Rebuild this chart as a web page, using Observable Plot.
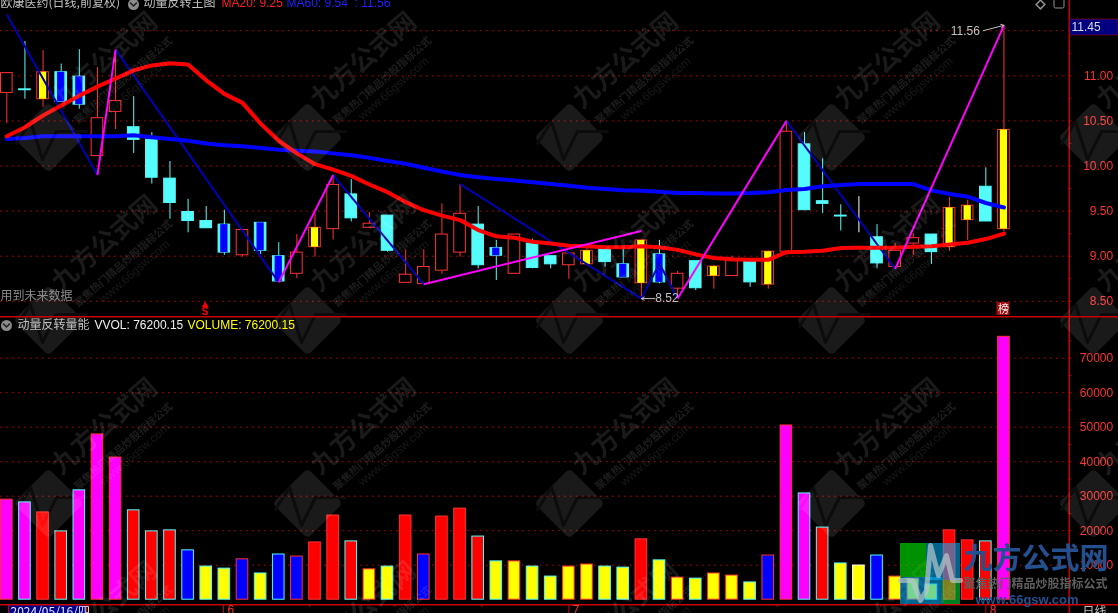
<!DOCTYPE html>
<html>
<head>
<meta charset="utf-8">
<script src="https://cdn.jsdelivr.net/npm/d3@7"></script>
<script src="https://cdn.jsdelivr.net/npm/@observablehq/plot@0.6"></script>
<style>
html,body{margin:0;padding:0;background:#000;overflow:hidden;width:1118px;height:613px}
#wrap{position:relative;width:1118px;height:613px;background:#000}
#wrap svg{display:block}
#wm{position:absolute;left:0;top:0;pointer-events:none;mix-blend-mode:screen}
#over{position:absolute;left:0;top:0;pointer-events:none}
</style>
</head>
<body>
<div id="wrap"><div id="top"></div><div id="bot"></div><div id="wm"></div><div id="over"></div></div>
<script>
const opens  = [10.81,10.85,10.74,11.04,10.99,10.11,10.60,10.43,10.29,9.86,9.49,9.39,9.35,9.01,9.37,9.00,8.805,9.10,9.30,9.685,9.315,9.45,8.705,8.69,8.84,9.04,9.35,9.09,8.805,9.14,9.00,8.90,8.91,9.08,8.91,8.70,9.02,8.64,8.945,8.78,8.78,8.935,8.685,9.05,10.24,9.61,9.45,9.33,9.21,8.88,9.14,9.24,9.10,9.40,9.77,9.30];
const highs  = [11.03,11.38,11.28,11.13,11.29,11.09,11.28,10.77,10.37,10.05,9.63,9.55,9.51,9.29,9.37,9.15,9.24,9.47,9.90,9.85,9.485,9.45,9.07,9.07,9.58,9.795,9.55,9.175,9.24,9.19,9.00,9.03,9.10,9.08,9.075,9.175,9.175,8.83,8.945,8.90,9.00,8.935,9.06,10.50,10.37,10.08,9.57,9.66,9.35,9.14,9.25,9.24,9.65,9.62,9.98,11.56];
const lows   = [10.47,10.74,10.65,10.71,10.63,10.11,10.405,10.14,9.80,9.41,9.26,9.31,9.01,8.99,9.02,8.71,8.75,8.99,9.18,9.38,9.315,9.045,8.705,8.69,8.80,8.99,8.86,8.73,8.805,8.86,8.86,8.745,8.91,8.88,8.765,8.53,8.695,8.53,8.62,8.635,8.78,8.655,8.635,9.05,9.51,9.475,9.28,9.26,8.86,8.88,9.005,8.91,9.055,9.175,9.385,9.27];
const closes = [11.03,10.84,11.04,10.71,10.68,10.53,10.72,10.29,9.87,9.59,9.39,9.31,9.04,9.29,9.06,8.72,9.04,9.315,9.79,9.42,9.36,9.06,8.795,8.88,9.24,9.47,8.90,9.005,9.24,8.87,8.91,9.03,9.06,8.935,8.765,9.175,8.71,8.805,8.645,8.885,8.945,8.71,9.05,10.38,9.51,9.58,9.44,9.33,8.92,9.06,9.20,9.045,9.535,9.56,9.385,10.40];
const yellowCore = [2,17,32,35,39,42,52,53,55];
const blueCore   = [3,4,12,14,15,27,34,36];
const ma20 = [10.33,10.43,10.56,10.67,10.78,10.88,10.97,11.06,11.115,11.14,11.125,10.95,10.80,10.70,10.47,10.28,10.14,10.02,9.96,9.89,9.795,9.71,9.60,9.51,9.45,9.40,9.29,9.22,9.205,9.16,9.14,9.115,9.11,9.10,9.10,9.11,9.10,9.07,9.02,8.98,8.965,8.96,8.96,9.045,9.05,9.06,9.09,9.095,9.095,9.095,9.105,9.11,9.13,9.15,9.19,9.25];
const ma60 = [10.30,10.31,10.33,10.33,10.33,10.33,10.33,10.34,10.32,10.30,10.28,10.25,10.23,10.22,10.20,10.18,10.17,10.16,10.14,10.12,10.09,10.055,10.025,9.98,9.94,9.90,9.875,9.855,9.84,9.82,9.80,9.78,9.76,9.745,9.73,9.725,9.715,9.70,9.70,9.695,9.695,9.70,9.71,9.735,9.745,9.775,9.79,9.80,9.80,9.80,9.80,9.73,9.69,9.66,9.59,9.54];
const zigFall = [[0,11.68,5,9.90],[6,11.29,15,8.71],[18,9.90,23,8.69],[25,9.80,35,8.53],[35,8.53,36,8.92],[36,8.92,37,8.53],[43,10.50,49,8.86]];
const zigRise = [[5,9.90,6,11.29],[15,8.71,18,9.90],[23,8.69,35,9.28],[37,8.53,43,10.50],[49,8.86,55,11.56]];
const volumes = [29000,28200,25300,19800,31700,47900,41200,25900,19800,20100,14300,9600,9000,11700,7600,13100,12500,16600,24400,16900,8800,9600,24400,13100,24100,26400,18300,11100,11100,9600,6700,9600,10200,9600,9300,17500,11400,6400,6100,7600,7000,5000,12800,50500,30800,20900,10500,9900,12800,6700,6100,4400,20100,17200,16900,76200];
const magentaBars = [0,1,4,5,6,43,44,55];
const redBars  = [2,3,7,8,9,17,18,19,22,24,25,26,35,45,52,53,54];
const blueBars = [10,13,15,16,23,42,48];
const priceTicks = [8.5,9,9.5,10,10.5,11];
const priceGrid = [8.5,9,9.5,10,10.5,11,11.5];
const priceMinor = [8.75,9.25,9.75,10.25,10.75,11.25];
const volTicks = [10000,20000,30000,40000,50000,60000,70000];
const volMinor = [5000,15000,25000,35000,45000,55000,65000,75000];
const monthLabels = [["6",11.95],["7",31],["8",54]];
const weekTicks = [16.7,21.4,26.2,36.7,42.5,48.2];

const RED="#ff3232", CYAN="#54fcfc", YEL="#ffff00", BLU="#0000ff", MAG="#ff00ff", AX="#c80000", NAVY="#0000b4", GRY="#c0c0c0";
const FONT="'Liberation Sans',Arial,sans-serif", CJK="'Noto Sans CJK SC',sans-serif";
const STEP=18.13, X0=6.3, W=1118;
const xOpt={type:"linear",domain:[-X0/STEP,(W-X0)/STEP],range:[0,W],axis:null};
const axisI=(1068.7-X0)/STEP, tickLen=2.5/STEP, H1=317, H2=296;
const idx=d3.range(opens.length);
const colorOf=i=>closes[i]>opens[i]?RED:closes[i]<opens[i]?CYAN:"#ffffff";
const isUp=i=>closes[i]>opens[i];
const bodyHalf=0.32, coreHalf=0.2;
const base={width:W,marginTop:0,marginBottom:0,marginLeft:0,marginRight:0,style:{background:"#000",display:"block"}};

const pricePanel=Plot.plot({...base,height:H1,x:xOpt,
  y:{domain:[11.835,11-(H1-75.3)/90.2],range:[0,H1],axis:null},
  marks:[
    Plot.ruleY(priceGrid,{y:d=>d,x1:xOpt.domain[0],x2:axisI,stroke:AX,strokeWidth:1,strokeDasharray:"1.5,4.5"}),
    Plot.ruleX(idx,{x:d=>d,y1:i=>highs[i],y2:i=>lows[i],stroke:colorOf,strokeWidth:1}),
    Plot.rect(idx,{x1:i=>i-bodyHalf,x2:i=>i+bodyHalf,y1:i=>opens[i],y2:i=>closes[i],
      fill:i=>isUp(i)?"#000":colorOf(i),stroke:colorOf,strokeWidth:1}),
    Plot.rect(yellowCore,{x1:i=>i-coreHalf,x2:i=>i+coreHalf,y1:i=>opens[i],y2:i=>closes[i],fill:YEL}),
    Plot.rect(blueCore,{x1:i=>i-coreHalf,x2:i=>i+coreHalf,y1:i=>opens[i],y2:i=>closes[i],fill:BLU}),
    Plot.link(zigFall,{x1:d=>d[0],y1:d=>d[1],x2:d=>d[2],y2:d=>d[3],stroke:NAVY,strokeWidth:2}),
    Plot.line(ma60,{x:(d,i)=>i,y:d=>d,stroke:BLU,strokeWidth:4,curve:"linear"}),
    Plot.line(ma20,{x:(d,i)=>i,y:d=>d,stroke:"#ff0000",strokeWidth:4,curve:"linear"}),
    Plot.link(zigRise,{x1:d=>d[0],y1:d=>d[1],x2:d=>d[2],y2:d=>d[3],stroke:MAG,strokeWidth:2}),
    Plot.arrow(["11.56"],{x1:55-1.15,y1:11.5,x2:55,y2:11.56,stroke:GRY,strokeWidth:1,headLength:5,bend:false}),
    Plot.text(["11.56"],{x:55,y:11.5,dx:-24,text:d=>d,textAnchor:"end",fill:GRY,fontSize:12,fontFamily:FONT}),
    Plot.arrow(["8.52"],{x1:35+0.75,y1:8.53,x2:35,y2:8.53,stroke:GRY,strokeWidth:1,headLength:5,bend:false}),
    Plot.text(["8.52"],{x:35,y:8.53,dx:14,text:d=>d,textAnchor:"start",fill:GRY,fontSize:12,fontFamily:FONT}),
    Plot.ruleX([axisI],{x:d=>d,stroke:AX,strokeWidth:1.5}),
    Plot.ruleY(priceTicks.concat(priceMinor,[11.5]),{y:d=>d,x1:axisI,x2:axisI+tickLen,stroke:AX}),
    Plot.text(priceTicks,{x:axisI,y:d=>d,dx:44,text:d=>d.toFixed(2),textAnchor:"end",fill:RED,fontSize:12,fontFamily:FONT})
  ]});
document.getElementById("top").append(pricePanel);

const floorV=-1480;
const barFill=i=>magentaBars.includes(i)?MAG:redBars.includes(i)?"#ff0000":blueBars.includes(i)?BLU:YEL;
const volumePanel=Plot.plot({...base,height:H2,x:xOpt,
  y:{domain:[81797,-4000],range:[0,H2],axis:null},
  marks:[
    Plot.ruleY(volTicks,{y:d=>d,x1:xOpt.domain[0],x2:axisI,stroke:AX,strokeWidth:1,strokeDasharray:"1.5,4.5"}),
    Plot.rect(idx,{x1:i=>i-bodyHalf,x2:i=>i+bodyHalf,y1:0,y2:i=>volumes[i],fill:barFill,stroke:colorOf,strokeWidth:1}),
    Plot.ruleX([axisI],{x:d=>d,stroke:AX,strokeWidth:1.5}),
    Plot.ruleY(volTicks.concat(volMinor),{y:d=>d,x1:axisI,x2:axisI+tickLen,stroke:AX}),
    Plot.text(volTicks,{x:axisI,y:d=>d,dx:44,text:d=>String(d),textAnchor:"end",fill:RED,fontSize:12,fontFamily:FONT}),
    Plot.ruleY([floorV],{y:d=>d,x1:xOpt.domain[0],x2:xOpt.domain[1],stroke:AX,strokeWidth:1.5}),
    Plot.ruleX(monthLabels,{x:d=>d[1],y1:floorV,y2:-4000,stroke:AX}),
    Plot.ruleX(weekTicks,{x:d=>d,y1:floorV,y2:floorV-700,stroke:AX}),
    Plot.text(monthLabels,{x:d=>d[1],y:-3100,dx:4,text:d=>d[0],textAnchor:"start",fill:RED,fontSize:12,fontFamily:FONT})
  ]});
document.getElementById("bot").append(volumePanel);

/* translucent site watermark: a black sheet screened over the panels */
const tileX=[48,307,569,831,1093], tileY=[137,320,503,686];
const tiles=tileX.flatMap(x=>tileY.map(y=>({x,y})));
const pulse=[[-32,6],[-18,-16],[-6,22],[8,-6],[38,-6]];
const identity={x:{type:"identity",axis:null},y:{type:"identity",axis:null}};
const watermark=Plot.plot({width:W,height:613,margin:0,...identity,style:{background:"#000",display:"block"},
  marks:[
    Plot.dot(tiles,{x:"x",y:"y",symbol:"square",r:23,rotate:45,fill:"#1a1a1a",stroke:"#1a1a1a",strokeWidth:9,strokeLinejoin:"round"}),
    Plot.line(tiles.flatMap((t,k)=>pulse.map(p=>({x:t.x+p[0],y:t.y+p[1],k}))),{x:"x",y:"y",z:"k",stroke:"#0c0c0c",strokeWidth:3}),
    Plot.text(tiles,{x:d=>d.x+56,y:d=>d.y-77,text:()=>"九方公式网",rotate:-41,fontSize:26,fontWeight:"bold",fontFamily:CJK,fill:"#1a1a1a"}),
    Plot.text(tiles,{x:d=>d.x+75,y:d=>d.y-57,text:()=>"聚焦热门精品炒股指标公式",rotate:-41,fontSize:10.5,fontWeight:"bold",fontFamily:CJK,fill:"#1e1e1e"}),
    Plot.text(tiles,{x:d=>d.x+86,y:d=>d.y-49,text:()=>"www.66gsw.com",rotate:-41,fontSize:12,fontFamily:FONT,fill:"#181818"})
  ]});
document.getElementById("wm").append(watermark);

/* overlay: panel captions, fixed decorations and the corner logo */
const txt=(s,x,y,fill,extra={})=>Plot.text([s],{x:()=>x,y:()=>y,text:d=>d,fill,textAnchor:"start",fontSize:12,fontFamily:CJK,...extra});
const chevron=(x,y)=>Plot.line([[x-3,y-1.5],[x,y+1.5],[x+3,y-1.5]],{x:d=>d[0],y:d=>d[1],stroke:"#222",strokeWidth:1.6});
const overlay=Plot.plot({width:W,height:613,margin:0,...identity,
  style:{background:"transparent",display:"block"},
  marks:[
    txt("欧康医药(日线,前复权)",0,3,GRY),
    Plot.dot([0],{x:()=>133,y:()=>4,r:5.5,fill:"#8c8c8c"}),
    chevron(133,4),
    txt("动量反转主图",143,3,GRY),
    txt("MA20: 9.25",221,3,"#ff2020",{fontFamily:FONT}),
    txt("MA60: 9.54  : 11.56",286,3,"#2020ff",{fontFamily:FONT}),
    Plot.dot([0],{x:()=>1040,y:()=>4,symbol:"square",r:3.5,rotate:45,fill:"none",stroke:"#909090"}),
    Plot.rect([0],{x1:()=>1054,x2:()=>1064,y1:()=>-4,y2:()=>8,rx:1.5,fill:"none",stroke:"#909090"}),
    Plot.rect([0],{x1:()=>1069.5,x2:()=>1118,y1:()=>19,y2:()=>35,fill:"#000080",stroke:"#c80000",strokeWidth:.5}),
    txt("11.45",1071,27,"#d8d8d8",{fontFamily:FONT}),
    txt("用到未来数据",0,296,"#8c8c8c"),
    Plot.dot([0],{x:()=>204.7,y:()=>305,symbol:"triangle",r:2.6,fill:"#ff0000"}),
    txt("S",204.7,311,"#ff0000",{fontFamily:FONT,fontSize:10,fontWeight:"bold",textAnchor:"middle"}),
    Plot.rect([0],{x1:()=>996.5,x2:()=>1009.5,y1:()=>302,y2:()=>315,fill:"#a01010"}),
    txt("榜",1003,308.5,"#f0f0f0",{fontSize:11,textAnchor:"middle"}),
    Plot.ruleY([316.3],{y:d=>d,stroke:"#c80000",strokeWidth:1.5}),
    Plot.dot([0],{x:()=>6,y:()=>325,r:5.5,fill:"#8c8c8c"}),
    chevron(6,325),
    txt("动量反转量能",17,325,GRY),
    txt("VVOL: 76200.15",94,325,"#f0f0f0",{fontFamily:FONT}),
    txt("VOLUME: 76200.15",187,325,YEL,{fontFamily:FONT}),
    Plot.rect([0],{x1:()=>8.5,x2:()=>86.5,y1:()=>605,y2:()=>620,fill:"#000090",stroke:"#c80000",strokeWidth:1}),
    txt("2024/05/16/四",10,612,"#e8e8ff",{fontSize:12}),
    txt("日线",1082,612,GRY),
    Plot.rect([0],{x1:()=>900,x2:()=>926,y1:()=>543,y2:()=>577,fill:"#00ff00",fillOpacity:.57}),
    Plot.rect([0],{x1:()=>926,x2:()=>960,y1:()=>543,y2:()=>580,fill:"#00b4ff",fillOpacity:.55}),
    Plot.rect([0],{x1:()=>900,x2:()=>942,y1:()=>577,y2:()=>604,fill:"#00b4ff",fillOpacity:.55}),
    Plot.rect([0],{x1:()=>942,x2:()=>960,y1:()=>580,y2:()=>604,fill:"#00ff40",fillOpacity:.5}),
    Plot.line([[900,580],[912,580],[920,600],[926,590],[930,545],[938,575],[946,555],[952,580],[960,580]],{x:d=>d[0],y:d=>d[1],stroke:"#b8c8c8",strokeWidth:5,strokeOpacity:.7}),
    txt("九方公式网",963,559,"#24508f",{fontSize:29,fontWeight:"bold"}),
    txt("聚焦热门精品炒股指标公式",963,584,"#5e5e5e",{fontSize:12,fontWeight:"bold"}),
    txt("www.66gsw.com",975,599,"#24508f",{fontFamily:FONT,fontSize:13,fontWeight:"bold",letterSpacing:"0.5px"})
  ]});
document.getElementById("over").append(overlay);
</script>
</body>
</html>
